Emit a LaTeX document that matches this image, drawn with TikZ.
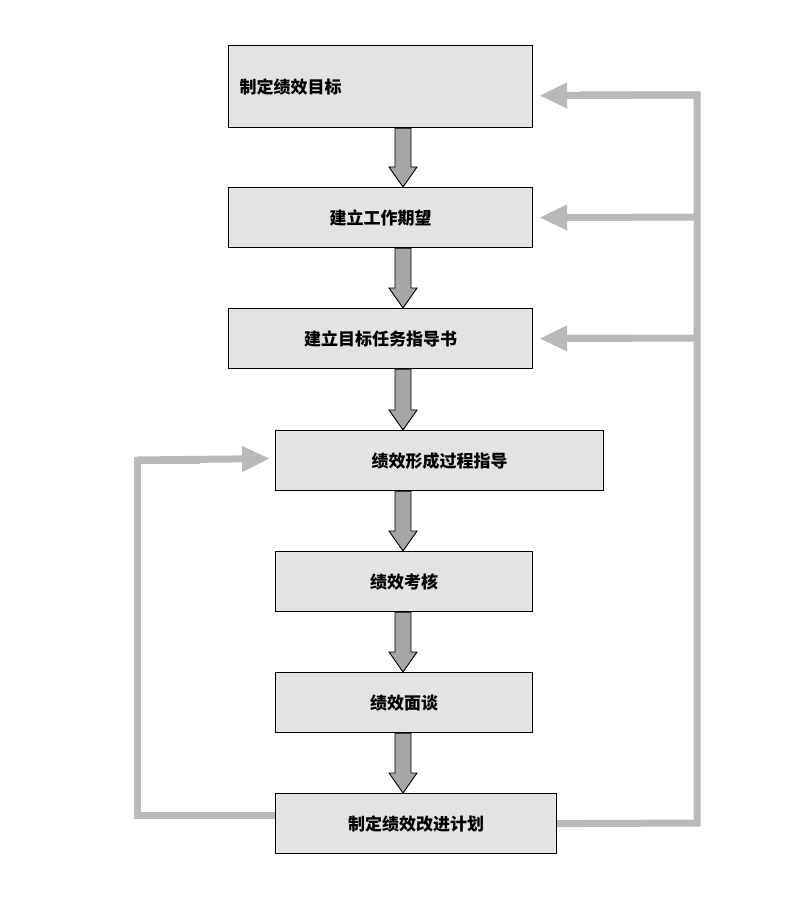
\documentclass[tikz,border=0pt]{standalone}
\usepackage{fontspec}
\setmainfont{Noto Sans CJK SC}
\usetikzlibrary{calc,arrows.meta}
\begin{document}
\begin{tikzpicture}[x=1pt,y=-1pt,
  box/.style={draw=black,line width=1.2pt,fill=gray!22,minimum height=60pt,anchor=north west,inner sep=0pt,font=\fontsize{17}{17}\selectfont\bfseries},
  loop/.style={draw=gray!55,line width=7pt},
  tip/.style={-{Triangle[length=28pt,width=24pt]}}]
\useasboundingbox (0,0) rectangle (800,912);
\node[box,minimum width=304pt,minimum height=82pt,text width=284pt,align=left] (b1) at (228,45) {\hspace*{1pt}制定绩效目标};
\node[box,minimum width=304pt] (b2) at (228,187) {建立工作期望};
\node[box,minimum width=304pt] (b3) at (228,308) {建立目标任务指导书};
\node[box,minimum width=328pt] (b4) at (275,430) {绩效形成过程指导};
\node[box,minimum width=257pt] (b5) at (275,551) {绩效考核};
\node[box,minimum width=257pt] (b6) at (275,672) {绩效面谈};
\node[box,minimum width=281pt] (b7) at (275,793) {制定绩效改进计划};
\foreach \a/\b in {b1/b2,b2/b3,b3/b4,b4/b5,b5/b6,b6/b7}{
  \path let \p1=(\a.south), \p2=(\b.north) in
    node[coordinate] (s) at (403,\y1) {}
    node[coordinate] (e) at (403,\y2) {};
  \draw[line width=0.9pt,fill=gray!70] let \p1=(s), \p2=(e) in
    (\x1-8,\y1) -- (\x1-8,\y2+20) -- (\x1-14,\y2+20) -- (\x1,\y2) -- (\x1+14,\y2+20) -- (\x1+8,\y2+20) -- (\x1+8,\y1) -- cycle;
}
% right loop
\coordinate (r7) at ($(b7.east)+(0,0)$);
\coordinate (rc) at (697,823);
\coordinate (rt) at (697,95);
\draw[loop,line join=miter] (b7.east) -- (rc) -- (rt) -- (580,95);
\draw[loop,tip] (rt) -- ($(b1.east)+(6,9)$);
\draw[loop,tip] (697,217) -- ($(b2.east)+(6,0)$);
\draw[loop,tip] (697,338) -- ($(b3.east)+(6,0)$);
% left loop
\coordinate (lc) at (137,815);
\coordinate (lt) at (137,460);
\draw[loop] (b7.west|-lc) -- (lc) -- (lt) -- (200,460);
\draw[loop,tip] (lt) -- ($(b4.west)+(-5,-2)$);
\end{tikzpicture}
\end{document}
